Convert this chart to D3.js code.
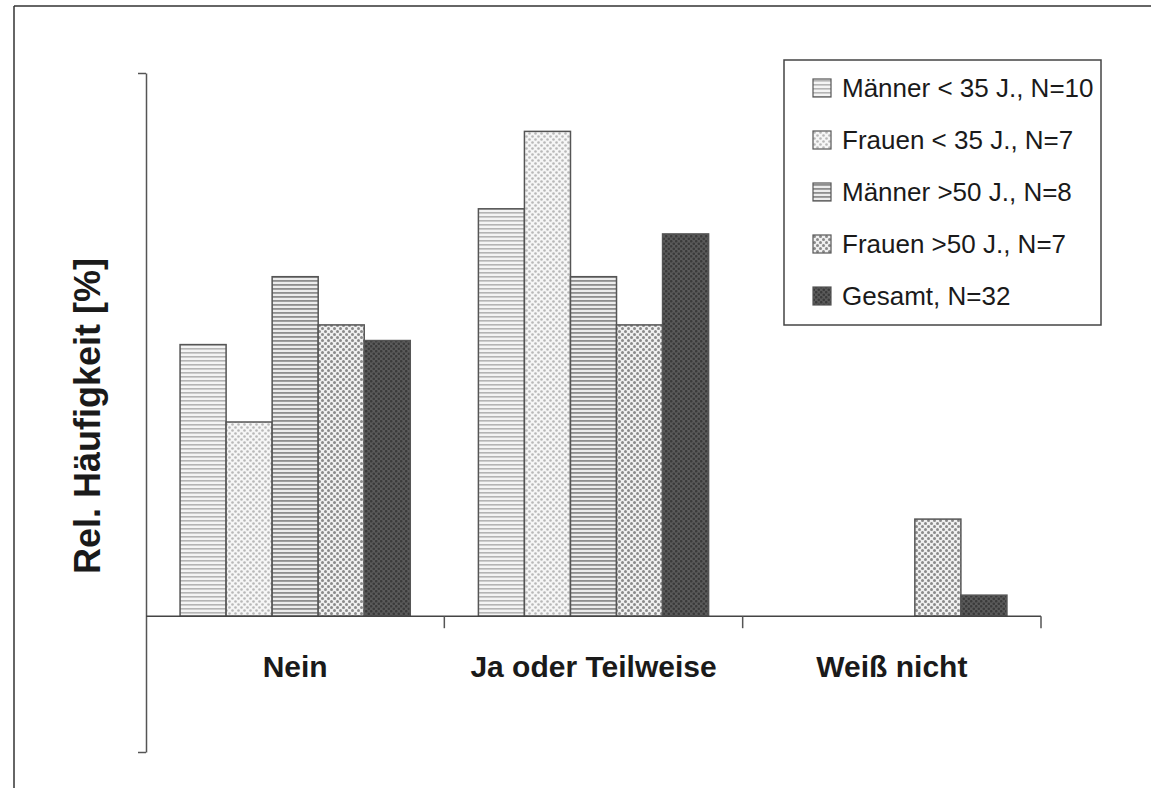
<!DOCTYPE html>
<html>
<head>
<meta charset="utf-8">
<script src="https://cdn.jsdelivr.net/npm/d3@7/dist/d3.min.js"></script>
<style>
  html, body { margin: 0; padding: 0; background: #fff; }
  svg { display: block; font-family: "Liberation Sans", Arial, sans-serif; }
</style>
</head>
<body>
<svg id="chart" width="1151" height="788"></svg>
<script>
// ---- data ----
const categories = ["Nein", "Ja oder Teilweise", "Weiß nicht"];
const seriesNames = ["Männer < 35 J., N=10", "Frauen < 35 J., N=7", "Männer >50 J., N=8", "Frauen >50 J., N=7", "Gesamt, N=32"];
const maennerUnter35 = [40.0, 60.0, 0];
const frauenUnter35 = [28.6, 71.4, 0];
const maennerUeber50 = [50.0, 50.0, 0];
const frauenUeber50 = [42.9, 42.9, 14.3];
const gesamt = [40.6, 56.3, 3.1];
const yDomain = [-20, 80];
const yLabel = "Rel. Häufigkeit [%]";

const seriesValues = [maennerUnter35, frauenUnter35, maennerUeber50, frauenUeber50, gesamt];

const svg = d3.select("#chart");

// ---- patterns ----
const defs = svg.append("defs");
function stripes(id, bg, fg, period, thick) {
  const p = defs.append("pattern").attr("id", id).attr("patternUnits", "userSpaceOnUse")
    .attr("width", 8).attr("height", period);
  p.append("rect").attr("width", 8).attr("height", period).attr("fill", bg);
  p.append("rect").attr("y", 0).attr("width", 8).attr("height", thick).attr("fill", fg);
}
function dots(id, bg, fg, w, h, r) {
  const p = defs.append("pattern").attr("id", id).attr("patternUnits", "userSpaceOnUse")
    .attr("width", w).attr("height", h);
  p.append("rect").attr("width", w).attr("height", h).attr("fill", bg);
  p.append("circle").attr("cx", w / 4).attr("cy", h / 4).attr("r", r).attr("fill", fg);
  p.append("circle").attr("cx", 3 * w / 4).attr("cy", 3 * h / 4).attr("r", r).attr("fill", fg);
}
stripes("p0", "#f4f4f4", "#b4b4b4", 4, 1.6);
dots("p1", "#f6f6f6", "#b8b8b8", 6, 6, 1.3);
stripes("p2", "#ececec", "#8e8e8e", 4, 1.8);
dots("p3", "#f0f0f0", "#8a8a8a", 6, 6, 1.5);
dots("p4", "#5a5a5a", "#3a3a3a", 5, 5, 1.3);
const fills = ["url(#p0)", "url(#p1)", "url(#p2)", "url(#p3)", "url(#p4)"];

// ---- outer frame ----
svg.append("line").attr("x1", 14).attr("x2", 1151).attr("y1", 6).attr("y2", 6)
  .attr("stroke", "#333").attr("stroke-width", 1.5);
svg.append("line").attr("x1", 14).attr("x2", 14).attr("y1", 6).attr("y2", 788)
  .attr("stroke", "#333").attr("stroke-width", 1.5);

// ---- scales ----
const x0 = d3.scaleBand().domain(categories).range([146, 1041]).paddingInner(0).paddingOuter(0);
const x1 = d3.scaleBand().domain(d3.range(seriesNames.length)).range([0, x0.bandwidth()])
  .paddingInner(0).paddingOuter(0.74);
const y = d3.scaleLinear().domain(yDomain).range([752, 73]);

// ---- bars ----
const barData = [];
categories.forEach((c, ci) => {
  seriesValues.forEach((vals, si) => {
    if (vals[ci] > 0) barData.push({ c, si, v: vals[ci] });
  });
});
svg.append("g").selectAll("rect").data(barData).join("rect")
  .attr("x", d => x0(d.c) + x1(d.si))
  .attr("y", d => y(d.v))
  .attr("width", x1.bandwidth())
  .attr("height", d => y(0) - y(d.v))
  .attr("fill", d => fills[d.si])
  .attr("stroke", "#555")
  .attr("stroke-width", 1.5);

// ---- y axis (no labels, end ticks only) ----
const yAxis = svg.append("g").attr("transform", "translate(146,0)")
  .call(d3.axisLeft(y).tickValues(yDomain).tickFormat("").tickSize(8).tickSizeOuter(0));
yAxis.selectAll("path, line").attr("stroke", "#555").attr("stroke-width", 1.5);

// ---- x axis at zero ----
const xAxisG = svg.append("g").attr("transform", `translate(0,${y(0)})`);
xAxisG.append("line").attr("x1", x0.range()[0]).attr("x2", x0.range()[1])
  .attr("stroke", "#444").attr("stroke-width", 1.5);
xAxisG.selectAll("line.tk").data(categories).join("line").attr("class", "tk")
  .attr("x1", d => x0(d) + x0.bandwidth()).attr("x2", d => x0(d) + x0.bandwidth())
  .attr("y1", 0).attr("y2", 12).attr("stroke", "#555").attr("stroke-width", 1.5);
xAxisG.selectAll("text").data(categories).join("text")
  .attr("x", d => x0(d) + x0.bandwidth() / 2)
  .attr("y", 61)
  .attr("text-anchor", "middle")
  .attr("font-size", 30).attr("font-weight", "bold").attr("fill", "#1a1a1a")
  .text(d => d);

// ---- y label ----
svg.append("text")
  .attr("transform", "translate(100,416) rotate(-90)")
  .attr("text-anchor", "middle")
  .attr("font-size", 36).attr("font-weight", "bold").attr("fill", "#1a1a1a")
  .text(yLabel);

// ---- legend ----
const lg = svg.append("g");
lg.append("rect").attr("x", 784).attr("y", 60).attr("width", 317).attr("height", 265)
  .attr("fill", "#fff").attr("stroke", "#444").attr("stroke-width", 1.5);
const rows = lg.selectAll("g.row").data(seriesNames).join("g").attr("class", "row")
  .attr("transform", (d, i) => `translate(0,${88 + i * 52})`);
rows.append("rect").attr("x", 813).attr("y", -9).attr("width", 18).attr("height", 18)
  .attr("fill", (d, i) => fills[i]).attr("stroke", "#555").attr("stroke-width", 1.2);
rows.append("text").attr("x", 842).attr("y", 9)
  .attr("font-size", 26).attr("fill", "#1a1a1a")
  .text(d => d);
</script>
</body>
</html>
